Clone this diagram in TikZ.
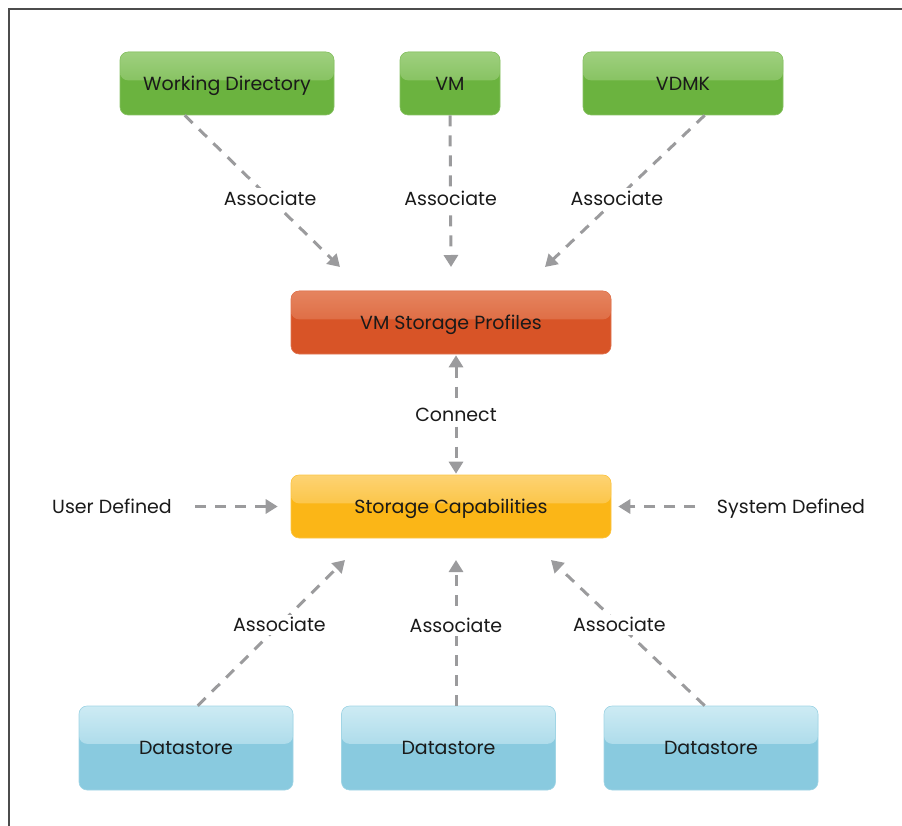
\documentclass[tikz,border=0pt]{standalone}
\usepackage{fontspec}
\setmainfont{Poppins}
\usetikzlibrary{arrows.meta,calc}
\definecolor{grn}{HTML}{6BB33F}
\definecolor{grnL}{HTML}{9FD07F}
\definecolor{org}{HTML}{D85427}
\definecolor{orgL}{HTML}{E5845F}
\definecolor{yel}{HTML}{FBB617}
\definecolor{yelL}{HTML}{FDD373}
\definecolor{blu}{HTML}{89CADF}
\definecolor{bluL}{HTML}{CDEBF4}
\definecolor{arr}{HTML}{9B9B9D}
\definecolor{txt}{HTML}{1A1A1A}
\newcommand{\lblfont}{\fontsize{19}{22}\selectfont}
\tikzset{
  gbox/.style 2 args={rounded corners=8pt, draw=#1!80!white, line width=0.6pt, fill=#1,
    text=txt, font=\lblfont, inner sep=0pt, text height=13.3pt, text depth=0pt,
    path picture={\shade[top color=#2, bottom color=#1]
      (path picture bounding box.north west) rectangle
      ($(path picture bounding box.north east)!0.45!(path picture bounding box.south east)$);}},
  conn/.style={draw=arr, line width=3pt, dash pattern=on 11pt off 9pt,
    -{Triangle[length=12pt,width=14pt]}},
  lbl/.style={fill=white, text=txt, font=\lblfont, inner sep=3pt},
  plain/.style={text=txt, font=\lblfont, text height=13.3pt, text depth=0pt}
}
\begin{document}
\begin{tikzpicture}[x=1pt,y=-1pt]
\useasboundingbox (0,0) rectangle (902,826);
\draw[line width=1.3pt, color=black!70] (9,826) -- (9,9) -- (902,9);

\node[gbox={grn}{grnL}, minimum width=214pt, minimum height=63pt] (wd) at (227,83.5) {Working Directory};
\node[gbox={grn}{grnL}, minimum width=100pt, minimum height=63pt] (vm) at (450,83.5) {VM};
\node[gbox={grn}{grnL}, minimum width=200pt, minimum height=63pt] (vdmk) at (683,83.5) {VDMK};
\node[gbox={org}{orgL}, minimum width=320pt, minimum height=63pt] (vsp) at (451,322.5) {VM Storage Profiles};
\node[gbox={yel}{yelL}, minimum width=320pt, minimum height=63pt] (sc) at (451,506.5) {Storage Capabilities};
\node[gbox={blu}{bluL}, minimum width=214pt, minimum height=84pt] (ds1) at (186,748) {Datastore};
\node[gbox={blu}{bluL}, minimum width=214pt, minimum height=84pt] (ds2) at (448.5,748) {Datastore};
\node[gbox={blu}{bluL}, minimum width=214pt, minimum height=84pt] (ds3) at (711,748) {Datastore};

\node[plain] (ud) at (112,506.5) {User Defined};
\node[plain] (sd) at (791,506.5) {System Defined};

\coordinate (t1) at (340,267);
\coordinate (t2) at (451,267);
\coordinate (t3) at (545,267);
\coordinate (b1) at (345,560);
\coordinate (b2) at (456,560);
\coordinate (b3) at (551,560);

\draw[conn] ($(wd.south west)+(65,0)$) -- node[lbl, pos=0.55] {Associate} (t1);
\draw[conn] (vm.south) -- node[lbl, pos=0.55] {Associate} (t2);
\draw[conn] ($(vdmk.south west)+(122,0)$) -- node[lbl, pos=0.55] {Associate} (t3);

\draw[conn, {Triangle[length=12pt,width=14pt]}-{Triangle[length=12pt,width=14pt]}]
  ($(vsp.south)+(5,1)$) -- node[lbl, pos=0.5] {Connect} ($(sc.north)+(5,-1)$);

\draw[conn] ($(ud.east)+(20,0)$) -- ($(sc.west)+(-13,0)$);
\draw[conn] ($(sd.west)+(-18,0)$) -- ($(sc.east)+(7,0)$);

\draw[conn] ($(ds1.north west)+(119,0)$) -- node[lbl, pos=0.555] {Associate} (b1);
\draw[conn] ($(ds2.north)+(7.5,0)$) -- node[lbl, pos=0.55] {Associate} (b2);
\draw[conn] ($(ds3.north west)+(101,0)$) -- node[lbl, pos=0.555] {Associate} (b3);
\end{tikzpicture}
\end{document}
